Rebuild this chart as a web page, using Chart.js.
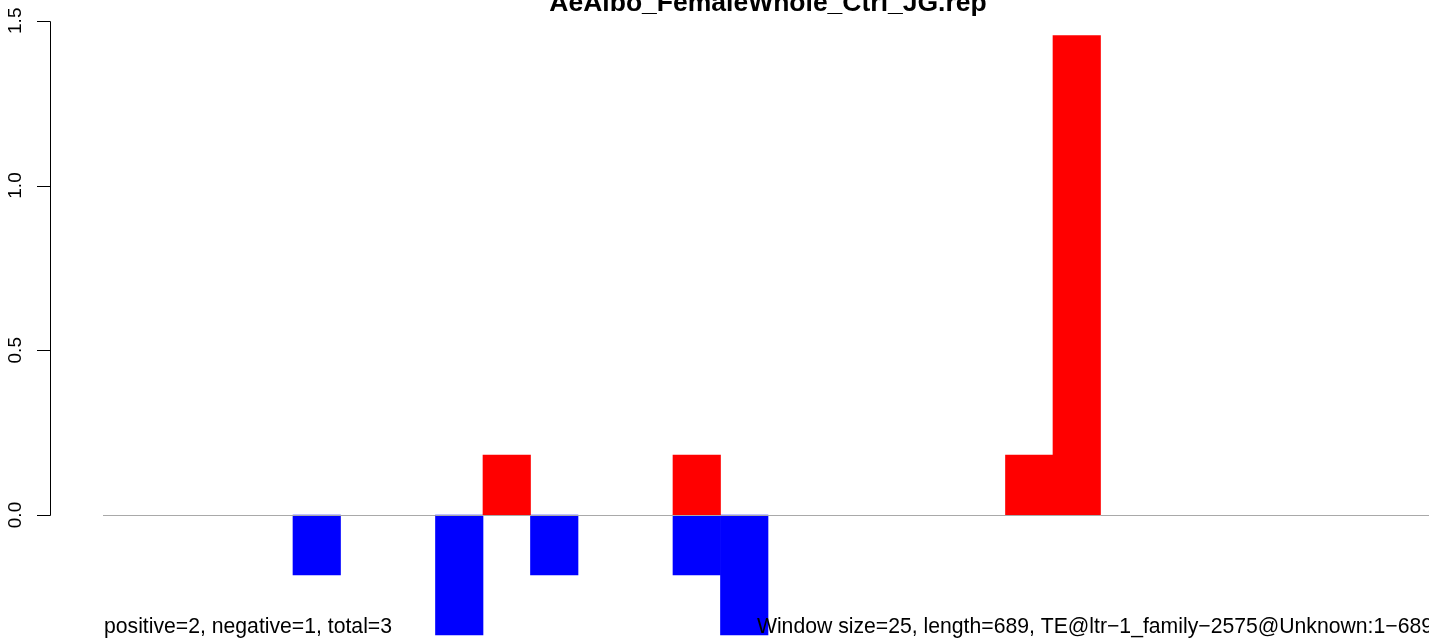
<!DOCTYPE html>
<html>
<head>
<meta charset="utf-8">
<script src="https://cdn.jsdelivr.net/npm/chart.js@4.4.1/dist/chart.umd.min.js"></script>
<style>
  html, body { margin: 0; padding: 0; background: #ffffff; overflow: hidden; }
  #wrap { position: absolute; left: 0; top: 0; width: 1433px; height: 641px; }
</style>
</head>
<body>
<div id="wrap"><canvas id="c"></canvas></div>
<script>
// ---- data ----
const binLabels = Array.from({length: 28}, (_, i) => String(i * 25 + 1)); // 25-nt windows along 689 nt
const positiveValues = [null,null,null,null,null,null,null,null,0.182,null,null,null,0.182,null,null,null,null,null,null,0.182,1.455,null,null,null,null,null,null,null];
const negativeValues = [null,null,null,null,-0.182,null,null,-0.364,null,-0.182,null,null,-0.182,-0.364,null,null,null,null,null,null,null,null,null,null,null,null,null,null];
const yTickValues = [0, 0.5, 1.0, 1.5];
const yTickLabels = ['0.0', '0.5', '1.0', '1.5'];
const titleText = 'AeAlbo_FemaleWhole_Ctrl_JG.rep';
const leftNote = 'positive=2, negative=1, total=3';
const rightNote = 'Window size=25, length=689, TE@ltr\u22121_family\u22122575@Unknown:1\u2212689';

const FONT = '"Liberation Sans", Arial, Helvetica, sans-serif';

const decorPlugin = {
  id: 'decor',
  afterDatasetsDraw(chart) {
    const ctx = chart.ctx;
    const y = chart.scales.y;
    const area = chart.chartArea;
    ctx.save();
    // zero reference line
    const y0 = Math.round(y.getPixelForValue(0)) + 0.5;
    ctx.strokeStyle = '#a9a9a9';
    ctx.lineWidth = 1;
    ctx.beginPath();
    ctx.moveTo(area.left, y0);
    ctx.lineTo(area.right, y0);
    ctx.stroke();
    ctx.restore();
  },
  afterDraw(chart) {
    const ctx = chart.ctx;
    const y = chart.scales.y;
    const area = chart.chartArea;
    ctx.save();
    // y axis (R style, offset to the left of the plot region)
    const axX = 50.5;
    const yTop = Math.round(y.getPixelForValue(yTickValues[yTickValues.length - 1])) + 0.5;
    const yBot = Math.round(y.getPixelForValue(yTickValues[0])) + 0.5;
    ctx.strokeStyle = '#000000';
    ctx.lineWidth = 1;
    ctx.beginPath();
    ctx.moveTo(axX, yTop);
    ctx.lineTo(axX, yBot);
    yTickValues.forEach(v => {
      const py = Math.round(y.getPixelForValue(v)) + 0.5;
      ctx.moveTo(axX, py);
      ctx.lineTo(37, py);
    });
    ctx.stroke();
    ctx.fillStyle = '#000000';
    ctx.font = '19px ' + FONT;
    ctx.textAlign = 'center';
    ctx.textBaseline = 'alphabetic';
    yTickValues.forEach((v, i) => {
      const py = y.getPixelForValue(v);
      ctx.save();
      ctx.translate(21, py);
      ctx.rotate(-Math.PI / 2);
      ctx.fillText(yTickLabels[i], 0, 0);
      ctx.restore();
    });
    // title
    ctx.font = 'bold 26.5px ' + FONT;
    ctx.textAlign = 'center';
    ctx.fillText(titleText, (area.left + area.right) / 2, 11);
    // bottom notes
    ctx.font = '21.2px ' + FONT;
    ctx.textAlign = 'left';
    ctx.fillText(leftNote, area.left + 1, 633);
    ctx.textAlign = 'right';
    ctx.fillText(rightNote, area.right, 633);
    ctx.restore();
  }
};

new Chart(document.getElementById('c'), {
  type: 'bar',
  data: {
    labels: binLabels,
    datasets: [
      { label: 'positive', data: positiveValues, backgroundColor: '#ff0000', borderWidth: 0, grouped: false, barPercentage: 1, categoryPercentage: 1 },
      { label: 'negative', data: negativeValues, backgroundColor: '#0000ff', borderWidth: 0, grouped: false, barPercentage: 1, categoryPercentage: 1 }
    ]
  },
  options: {
    responsive: true,
    maintainAspectRatio: false,
    animation: false,
    layout: { padding: { left: 103, right: 0, top: 0, bottom: 0 } },
    plugins: { legend: { display: false }, title: { display: false }, tooltip: { enabled: false } },
    scales: {
      x: { display: false, offset: true },
      y: { display: false, min: -0.3824, max: 1.563 }
    }
  },
  plugins: [decorPlugin]
});
</script>
</body>
</html>
